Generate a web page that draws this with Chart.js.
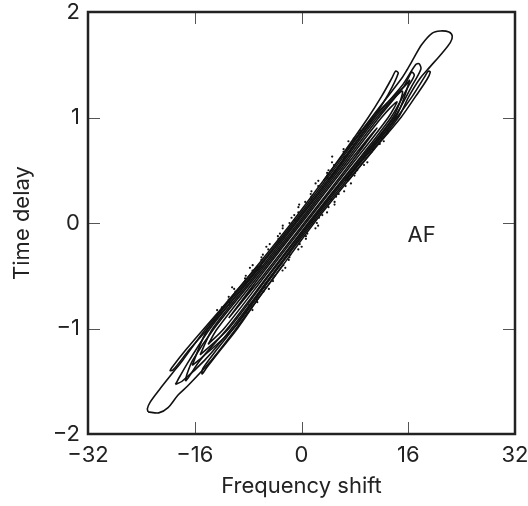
<!DOCTYPE html>
<html>
<head>
<meta charset="utf-8">
<script src="https://cdn.jsdelivr.net/npm/chart.js@4/dist/chart.umd.min.js"></script>
<style>
html, body { margin: 0; padding: 0; background: #fff; }
</style>
</head>
<body>
<canvas id="af" width="528" height="506"></canvas>
<script>
// Axis ranges and ticks
const xTicks = [-32, -16, 0, 16, 32];
const yTicks = [-2, -1, 0, 1, 2];

// Contour lines of the ambiguity function, [frequency shift, time delay]
const contourA = [[-23.0,-1.79],[-21.4,-1.80],[-20.0,-1.75],[-18.5,-1.63],[-17.0,-1.54],[-13.5,-1.30],[-9.8,-1.00],[-3.95,-0.50],[1.9,0.00],[8.25,0.50],[14.5,1.00],[16.1,1.20],[17.76,1.37],[19.26,1.48],[21.06,1.61],[22.3,1.71],[22.6,1.77],[22.1,1.81],[20.8,1.82],[19.6,1.80],[18.0,1.69],[16.8,1.56],[15.8,1.45],[15.0,1.37],[10.5,1.00],[4.45,0.50],[-1.5,0.00],[-7.85,-0.50],[-14.3,-1.00],[-17.8,-1.30],[-19.3,-1.42],[-21.3,-1.58],[-22.7,-1.70],[-23.1,-1.76],[-23.0,-1.79]];
const contourH = [[-16.4,-1.35],[-15.4,-1.30],[-10.2,-1.00],[-4.35,-0.50],[1.65,0.00],[7.95,0.50],[14.1,1.00],[16.2,1.35],[15.5,1.30],[10.7,1.00],[4.75,0.50],[-1.25,0.00],[-7.55,-0.50],[-14.0,-1.00],[-16.4,-1.35]];
const contourB = [[-18.9,-1.53],[-17.9,-1.50],[-14.5,-1.30],[-10.5,-1.00],[-4.55,-0.50],[1.4,0.00],[7.65,0.50],[13.9,1.00],[16.55,1.30],[17.9,1.46],[17.6,1.51],[17.1,1.50],[15.05,1.30],[11.0,1.00],[5.05,0.50],[-1.0,0.00],[-7.35,-0.50],[-13.7,-1.00],[-16.8,-1.30],[-18.2,-1.45],[-18.9,-1.53]];
const contourF = [[-15.2,-1.25],[-10.9,-1.00],[-4.9,-0.50],[1.2,0.00],[7.4,0.50],[13.7,1.00],[15.1,1.25],[11.3,1.00],[5.3,0.50],[-0.8,0.00],[-7.0,-0.50],[-13.3,-1.00],[-15.2,-1.25]];
const contourC = [[-17.4,-1.50],[-16.9,-1.46],[-15.2,-1.30],[-11.1,-1.00],[-5.05,-0.50],[1.0,0.00],[7.25,0.50],[13.4,1.00],[16.05,1.30],[16.9,1.40],[16.5,1.43],[15.4,1.30],[11.6,1.00],[5.55,0.50],[-0.5,0.00],[-6.75,-0.50],[-13.1,-1.00],[-16.3,-1.30],[-17.2,-1.44],[-17.4,-1.50]];
const contourD = [[-14.0,-1.15],[-11.6,-1.00],[-5.45,-0.50],[0.65,0.00],[6.85,0.50],[13.0,1.00],[14.3,1.15],[12.0,1.00],[5.85,0.50],[-0.25,0.00],[-6.45,-0.50],[-12.6,-1.00],[-14.0,-1.15]];
const contourE = [[-10.9,-0.90],[-5.75,-0.50],[0.4,0.00],[6.55,0.50],[11.3,0.90],[6.15,0.50],[0.0,0.00],[-6.15,-0.50],[-10.9,-0.90]];
const fingerTopLeft = [[3.3,0.40],[6.7,0.70],[10.0,1.00],[12.0,1.20],[13.6,1.38],[14.1,1.44],[14.5,1.42],[13.0,1.22],[11.0,1.02],[7.6,0.72],[4.2,0.42]];
const fingerTopRight = [[7.0,0.40],[10.9,0.70],[14.9,1.00],[17.1,1.20],[18.8,1.36],[19.3,1.43],[19.0,1.44],[18.4,1.38],[16.6,1.20],[14.3,1.00],[10.4,0.70],[6.5,0.40]];
const fingerBottomLeft = [[-6.5,-0.40],[-10.5,-0.70],[-14.6,-1.00],[-17.3,-1.20],[-19.3,-1.36],[-19.7,-1.40],[-19.2,-1.39],[-16.8,-1.20],[-14.0,-1.00],[-9.9,-0.70],[-6.0,-0.40]];
const fingerBottomRight = [[-2.8,-0.40],[-6.3,-0.70],[-9.6,-1.00],[-12.1,-1.20],[-14.2,-1.37],[-14.9,-1.43],[-14.8,-1.38],[-12.7,-1.20],[-10.2,-1.00],[-6.8,-0.70],[-3.3,-0.40]];

// Small specks around the ridge
const specks = [[-12.26,-0.85],[-8.36,-0.85],[-11.94,-0.80],[-7.44,-0.80],[-10.83,-0.75],[-6.63,-0.75],[-10.91,-0.70],[-6.61,-0.70],[-9.90,-0.65],[-5.70,-0.65],[-10.4,-0.61],[-5.5,-0.61],[-8.47,-0.55],[-4.27,-0.55],[-8.35,-0.50],[-4.05,-0.50],[-7.34,-0.45],[-2.84,-0.45],[-7.32,-0.40],[-2.72,-0.40],[-6.01,-0.35],[-1.91,-0.35],[-5.79,-0.30],[-1.69,-0.30],[-4.98,-0.25],[-0.48,-0.25],[-4.76,-0.20],[-0.26,-0.20],[-3.45,-0.15],[0.66,-0.15],[-3.23,-0.10],[0.87,-0.10],[-2.82,-0.05],[2.09,-0.05],[-1.8,0.00],[2.3,0.00],[-1.49,0.05],[2.62,0.05],[-0.47,0.10],[3.83,0.10],[-0.46,0.15],[4.05,0.15],[0.56,0.20],[4.96,0.20],[1.48,0.25],[5.18,0.25],[1.49,0.30],[6.39,0.30],[2.51,0.35],[6.61,0.35],[2.52,0.40],[6.92,0.40],[3.84,0.45],[7.94,0.45],[4.05,0.50],[8.35,0.50],[4.87,0.55],[9.37,0.55],[4.6,0.63],[9.5,0.63],[6.31,0.70],[10.71,0.70],[7.63,0.75],[11.73,0.75],[7.84,0.80],[12.04,0.80],[8.66,0.85],[12.86,0.85],[-10.83,-0.775],[-7.83,-0.775],[-8.37,-0.575],[-5.37,-0.575],[-5.91,-0.375],[-2.91,-0.375],[-3.45,-0.175],[-0.45,-0.175],[-0.99,0.025],[2.01,0.025],[1.47,0.225],[4.47,0.225],[3.93,0.425],[6.93,0.425],[6.39,0.625],[9.39,0.625],[8.85,0.825],[11.85,0.825],[-12.65,-0.825],[-7.35,-0.825],[-10.92,-0.725],[-6.72,-0.725],[-10.09,-0.625],[-4.89,-0.625],[-8.46,-0.525],[-4.26,-0.525],[-7.73,-0.425],[-2.43,-0.425],[-6.0,-0.325],[-1.8,-0.325],[-5.27,-0.225],[0.03,-0.225],[-3.54,-0.125],[0.66,-0.125],[-2.81,-0.025],[2.49,-0.025],[-1.08,0.075],[3.12,0.075],[-0.35,0.175],[4.95,0.175],[1.38,0.275],[5.58,0.275],[2.11,0.375],[7.41,0.375],[3.84,0.475],[8.04,0.475],[4.57,0.575],[9.87,0.575],[6.30,0.675],[10.50,0.675],[7.03,0.775],[12.33,0.775],[8.76,0.875],[12.96,0.875]];

const annotation = { text: 'AF', x: 18.0, y: -0.12 };

const toPoints = arr => arr.map(p => ({ x: p[0], y: p[1] }));
const minus = v => String(v).replace('-', '\u2212');

function contourSet(arr) {
    return {
        data: toPoints(arr),
        showLine: true,
        borderColor: '#111',
        borderWidth: 1.6,
        pointRadius: 0,
        tension: 0.3,
        fill: false
    };
}

// No extra room for overhanging tick labels, the layout padding decides
function noOverhang(s) {
    s.paddingTop = 0; s.paddingBottom = 0; s.paddingLeft = 0; s.paddingRight = 0;
}

const fontFamily = "Inter, 'Liberation Sans', Arial, sans-serif";

// Frame, inward ticks and the AF label
const framePlugin = {
    id: 'frame',
    afterDraw(chart) {
        const ctx = chart.ctx;
        const area = chart.chartArea;
        const xs = chart.scales.x, ys = chart.scales.y;
        ctx.save();
        ctx.strokeStyle = '#555';
        ctx.lineWidth = 1;
        const len = 12;
        xTicks.slice(1, -1).forEach(v => {
            const px = Math.round(xs.getPixelForValue(v)) + 0.5;
            ctx.beginPath();
            ctx.moveTo(px, area.bottom); ctx.lineTo(px, area.bottom - len);
            ctx.moveTo(px, area.top); ctx.lineTo(px, area.top + len);
            ctx.stroke();
        });
        yTicks.slice(1, -1).forEach(v => {
            const py = Math.round(ys.getPixelForValue(v)) + 0.5;
            ctx.beginPath();
            ctx.moveTo(area.left, py); ctx.lineTo(area.left + len, py);
            ctx.moveTo(area.right, py); ctx.lineTo(area.right - len, py);
            ctx.stroke();
        });
        ctx.strokeStyle = '#222';
        ctx.lineWidth = 2.5;
        ctx.strokeRect(area.left, area.top, area.right - area.left, area.bottom - area.top);
        ctx.fillStyle = '#222';
        ctx.font = '22px ' + fontFamily;
        ctx.textAlign = 'center';
        ctx.textBaseline = 'middle';
        ctx.fillText(annotation.text, xs.getPixelForValue(annotation.x), ys.getPixelForValue(annotation.y));
        ctx.restore();
    }
};

Chart.defaults.font.family = fontFamily;
Chart.defaults.font.size = 22;
Chart.defaults.color = '#222';

new Chart(document.getElementById('af'), {
    type: 'scatter',
    data: {
        datasets: [
            contourSet(contourA),
            contourSet(contourH),
            contourSet(contourB),
            contourSet(contourF),
            contourSet(contourC),
            contourSet(contourD),
            contourSet(contourE),
            contourSet(fingerTopLeft),
            contourSet(fingerTopRight),
            contourSet(fingerBottomLeft),
            contourSet(fingerBottomRight),
            {
                data: toPoints(specks),
                showLine: false,
                pointRadius: 1.1,
                pointBorderWidth: 0,
                backgroundColor: '#111'
            }
        ]
    },
    options: {
        responsive: false,
        animation: false,
        layout: { padding: { top: 12, right: 13, left: 0, bottom: 0 } },
        plugins: { legend: { display: false }, tooltip: { enabled: false } },
        scales: {
            x: {
                type: 'linear',
                min: xTicks[0],
                max: xTicks[xTicks.length - 1],
                afterBuildTicks: s => { s.ticks = xTicks.map(v => ({ value: v })); },
                ticks: { padding: 8, maxRotation: 0, callback: minus },
                grid: { display: false, drawTicks: false },
                border: { display: false },
                title: { display: true, text: 'Frequency shift', padding: { top: 0, bottom: 6 } },
                afterFit: s => { s.height = 72; noOverhang(s); }
            },
            y: {
                type: 'linear',
                min: yTicks[0],
                max: yTicks[yTicks.length - 1],
                afterBuildTicks: s => { s.ticks = yTicks.map(v => ({ value: v })); },
                ticks: { padding: 8, callback: minus },
                grid: { display: false, drawTicks: false },
                border: { display: false },
                title: { display: true, text: 'Time delay', padding: { top: 9, bottom: 0 } },
                afterFit: s => { s.width = 88; noOverhang(s); }
            }
        }
    },
    plugins: [framePlugin]
});
</script>
</body>
</html>
